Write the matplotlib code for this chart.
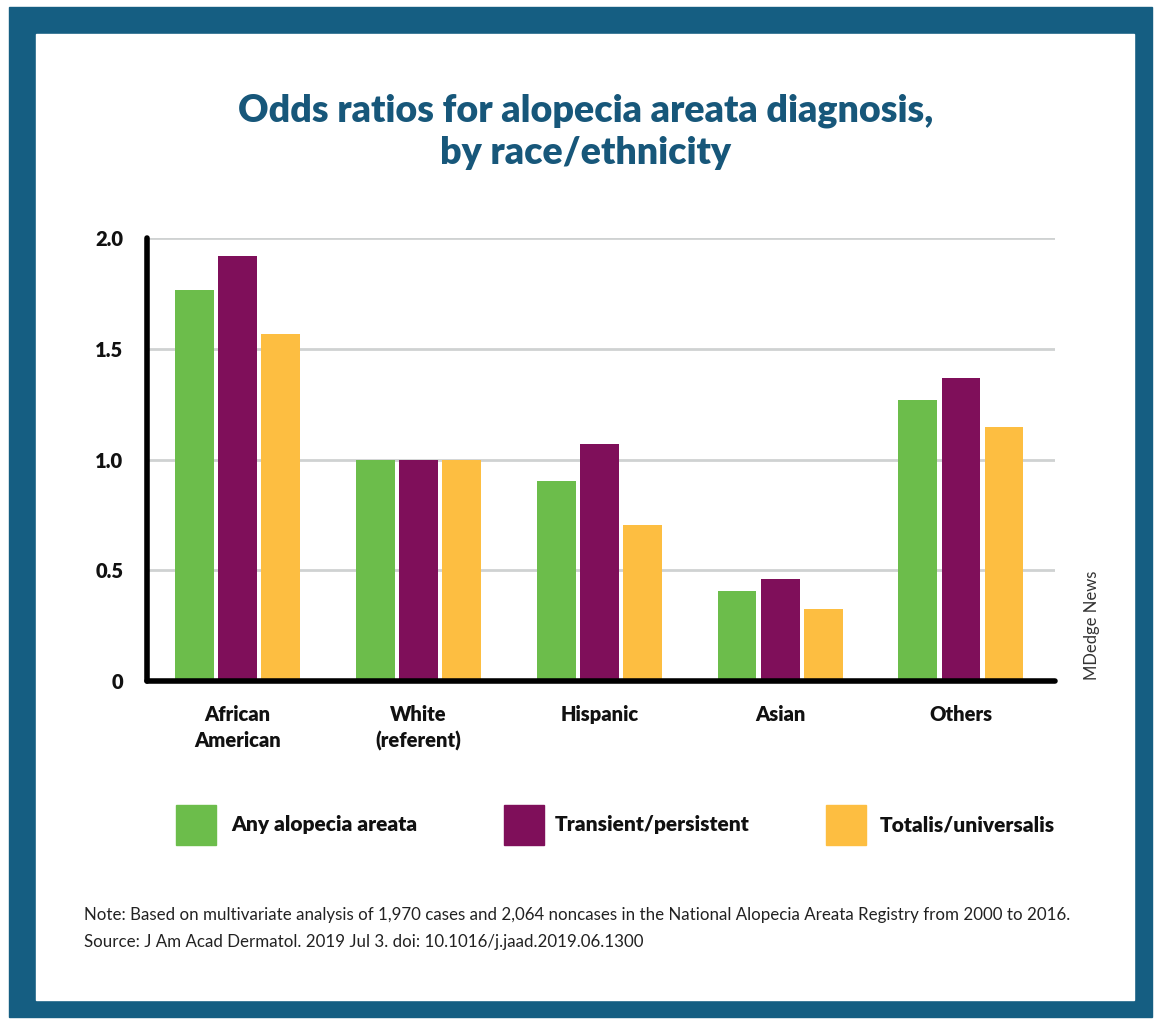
import matplotlib
matplotlib.use("Agg")
import matplotlib.pyplot as plt
from matplotlib.patches import Rectangle
import numpy as np

categories = ["African\nAmerican", "White\n(referent)", "Hispanic", "Asian", "Others"]
series_names = ["Any alopecia areata", "Transient/persistent", "Totalis/universalis"]
any_aa = [1.765, 1.0, 0.905, 0.405, 1.27]
transient = [1.92, 1.0, 1.07, 0.46, 1.37]
totalis = [1.565, 1.0, 0.705, 0.325, 1.145]
yticks = [0, 0.5, 1.0, 1.5, 2.0]
ytick_labels = ["0", "0.5", "1.0", "1.5", "2.0"]

colors = ["#6cbd4b", "#7f0f5a", "#fdbe41"]
blue = "#155e82"
W, H = 1154, 1023
fig = plt.figure(figsize=(W / 100, H / 100), dpi=100)
fig.patch.set_facecolor("white")

def fx(x):
    return x / W

def fy(y):
    return 1 - y / H

# border
fig.patches.append(Rectangle((fx(9), fy(1017)), fx(1152) - fx(9), fy(7) - fy(1017),
                             transform=fig.transFigure, color=blue, zorder=-3))
fig.patches.append(Rectangle((fx(36), fy(1000)), fx(1134) - fx(36), fy(34) - fy(1000),
                             transform=fig.transFigure, color="white", zorder=-2))

fig.text(fx(586), fy(132), "Odds ratios for alopecia areata diagnosis,\nby race/ethnicity",
         ha="center", va="center", fontsize=27, fontweight="heavy", family="Lato",
         color="#17577a", linespacing=1.3)

ax = fig.add_axes([fx(147), fy(681), fx(1055) - fx(147), fy(238) - fy(681)])
ax.set_facecolor("none")
x = np.arange(len(categories))
w = 0.215
off = 0.238
for i, (vals, c) in enumerate(zip([any_aa, transient, totalis], colors)):
    ax.bar(x + (i - 1) * off, vals, width=w, color=c, zorder=3)

ax.set_xlim(-0.5, 4.52)
ax.set_ylim(0, 2.0)
ax.set_yticks(yticks)
ax.set_yticklabels(ytick_labels)
ax.set_xticks(x)
ax.set_xticklabels(categories, linespacing=1.45)
ax.tick_params(axis="both", length=0)
ax.tick_params(axis="y", pad=17)
ax.tick_params(axis="x", pad=17)
for lab in ax.get_yticklabels() + ax.get_xticklabels():
    lab.set_fontfamily("Lato")
    lab.set_fontweight("heavy")
    lab.set_fontsize(14.5)
    lab.set_color("#111111")
ax.yaxis.grid(True, color="#cfd2d2", linewidth=2, zorder=0)
ax.set_axisbelow(True)
for s in ["top", "right"]:
    ax.spines[s].set_visible(False)
ax.spines["left"].set_linewidth(4)
ax.spines["bottom"].set_linewidth(4)
ax.spines["left"].set_capstyle("round")
ax.spines["bottom"].set_capstyle("round")
ax.spines["left"].set_zorder(5)
ax.spines["bottom"].set_zorder(5)

# legend
leg_x = [176, 504, 826]
text_x = [231, 555, 880]
for name, c, lx, tx in zip(series_names, colors, leg_x, text_x):
    fig.patches.append(Rectangle((fx(lx), fy(845)), fx(40), 40 / H,
                                 transform=fig.transFigure, color=c))
    fig.text(fx(tx), fy(825), name, ha="left", va="center", fontsize=15,
             fontweight="heavy", family="Lato", color="#111111")

fig.text(fx(84), fy(915), "Note: Based on multivariate analysis of 1,970 cases and 2,064 noncases in the National Alopecia Areata Registry from 2000 to 2016.",
         ha="left", va="center", fontsize=12.2, family="Lato", color="#222222")
fig.text(fx(84), fy(942), "Source: J Am Acad Dermatol. 2019 Jul 3. doi: 10.1016/j.jaad.2019.06.1300",
         ha="left", va="center", fontsize=12.2, family="Lato", color="#222222")
fig.text(fx(1092), fy(625), "MDedge News", rotation=90, ha="center", va="center",
         fontsize=12, family="Lato", color="#333333")

fig.savefig("out.png", dpi=100)
